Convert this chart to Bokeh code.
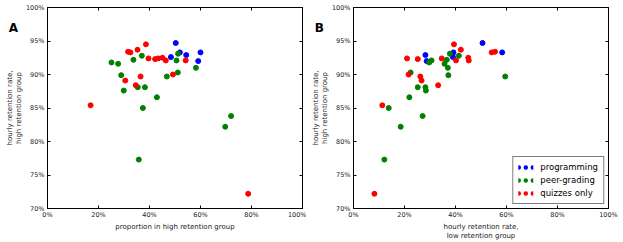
from bokeh.plotting import figure
from bokeh.layouts import row
from bokeh.models import (Range1d, FixedTicker, PrintfTickFormatter, LinearAxis,
                          Legend, LegendItem, CustomLabelingPolicy)
from bokeh.core.properties import value
from bokeh.embed import file_html
from bokeh.resources import INLINE

groups = ["programming", "peer-grading", "quizzes only"]
colors = ["#0000ff", "#008000", "#ff0000"]

# hourly retention rate, high retention group (%)
prog_high = [94.7, 92.6, 93.3, 92.9, 93.3, 92.0]
# proportion in high retention group (%)
prog_prop = [50.3, 48.4, 51.9, 54.4, 60.0, 59.1]
# hourly retention rate, low retention group (%)
prog_low = [50.6, 39.0, 39.2, 28.2, 58.3, 28.7]

peer_high = [77.3, 82.2, 83.8, 85.0, 86.6, 87.6, 88.1, 88.1, 89.7, 89.9,
             90.3, 91.0, 91.6, 91.8, 92.1, 92.2, 92.8, 93.1]
peer_prop = [35.8, 69.7, 72.0, 37.4, 42.9, 29.9, 35.4, 38.2, 46.8, 28.9,
             51.1, 58.2, 27.7, 25.1, 50.6, 33.7, 37.0, 51.2]
peer_low = [12.1, 18.5, 27.1, 13.8, 21.9, 28.4, 25.2, 28.2, 59.5, 37.2,
            22.4, 37.0, 35.7, 29.7, 30.6, 36.6, 41.3, 37.8]

quiz_high = [72.2, 85.4, 88.4, 89.1, 89.7, 90.0, 92.1, 92.1, 92.3, 92.4,
             92.4, 92.5, 93.3, 93.4, 93.7, 94.5]
quiz_prop = [78.7, 16.9, 34.6, 30.5, 36.5, 49.2, 46.4, 54.2, 42.2, 39.6,
             43.4, 45.1, 32.5, 31.6, 35.3, 38.6]
quiz_low = [8.2, 11.3, 33.2, 26.7, 26.2, 21.6, 40.2, 45.2, 25.2, 34.6,
            21.0, 45.0, 54.2, 55.5, 42.1, 39.4]

x_ticks = [0, 20, 40, 60, 80, 100]
y_ticks = [70, 75, 80, 85, 90, 95, 100]
panel_letters = ["A", "B"]
letter_x = [-15.2]
letter_y = [96.9]

FONT = "DejaVu Sans"
TICK_SIZE = "6.5px"
LABEL_SIZE = "7px"

hide_all = CustomLabelingPolicy(code="""
for (const i of Array.from(indices)) { indices.unset(i) }
return indices
""")


def style_axis(ax, ticks, label_standoff, axis_label_standoff, show_labels=True):
    ax.ticker = FixedTicker(ticks=ticks)
    ax.formatter = PrintfTickFormatter(format="%d%%")
    ax.major_tick_in = 3
    ax.major_tick_out = 0
    ax.minor_tick_in = 0
    ax.minor_tick_out = 0
    ax.major_tick_line_color = "black"
    ax.axis_line_color = "black"
    ax.major_label_text_font = FONT
    ax.major_label_text_color = "#222222"
    ax.axis_label_text_font = FONT
    ax.axis_label_text_font_style = "normal"
    ax.axis_label_text_font_size = LABEL_SIZE
    ax.axis_label_text_color = "#222222"
    ax.axis_label_text_line_height = 1.15
    ax.major_label_standoff = label_standoff
    ax.axis_label_standoff = axis_label_standoff
    if show_labels:
        ax.major_label_text_font_size = TICK_SIZE
    else:
        ax.major_label_policy = hide_all
        ax.major_label_text_font_size = "0px"


def make_panel(xvals, xlabel, letter, width, border_right):
    p = figure(width=width, height=242, output_backend="svg", toolbar_location=None,
               x_range=Range1d(0, 100), y_range=Range1d(70, 100),
               min_border_left=47, min_border_right=border_right,
               min_border_top=7, min_border_bottom=34)
    p.xgrid.visible = False
    p.ygrid.visible = False
    p.outline_line_color = "black"
    p.outline_line_width = 1
    p.background_fill_color = "white"
    p.border_fill_color = "white"

    style_axis(p.xaxis[0], x_ticks, 2, 1)
    style_axis(p.yaxis[0], y_ticks, 3, 0)
    p.xaxis.axis_label = xlabel
    p.yaxis.axis_label = "hourly retention rate,\nhigh retention group"

    top = LinearAxis()
    style_axis(top, x_ticks, 0, 0, show_labels=False)
    p.add_layout(top, "above")
    right = LinearAxis()
    style_axis(right, y_ticks, 0, 0, show_labels=False)
    p.add_layout(right, "right")

    highs = [prog_high, peer_high, quiz_high]
    for xs, ys, c in zip(xvals, highs, colors):
        p.scatter(x=xs, y=ys, size=5, fill_color=c, line_color=c)

    p.text(x=letter_x, y=letter_y, text=[letter], text_font=value(FONT),
           text_font_style="bold", text_font_size="12px", text_color="black",
           text_baseline="alphabetic", text_align="left", level="overlay")
    return p


pA = make_panel([prog_prop, peer_prop, quiz_prop], "proportion in high retention group",
                panel_letters[0], 306, 4)
pB = make_panel([prog_low, peer_low, quiz_low], "hourly retention rate,\nlow retention group",
                panel_letters[1], 317, 15)

items = []
nan = float("nan")
for name, c in zip(groups, colors):
    lr = pB.line(x=[nan], y=[nan], line_color=c, line_width=4.5, line_dash="0 7",
                 line_cap="round")
    items.append(LegendItem(label=name, renderers=[lr]))

legend = Legend(items=items, location="bottom_right", orientation="vertical",
                glyph_width=15, glyph_height=10, label_height=10,
                label_standoff=7, spacing=3, padding=5, margin=4,
                label_text_font=FONT, label_text_font_size="8.5px",
                label_text_color="black",
                border_line_color="black", border_line_width=1,
                background_fill_color="white", background_fill_alpha=1)
pB.add_layout(legend, "center")

layout = row(pA, pB)
open("out.html", "w").write(file_html(layout, INLINE))
